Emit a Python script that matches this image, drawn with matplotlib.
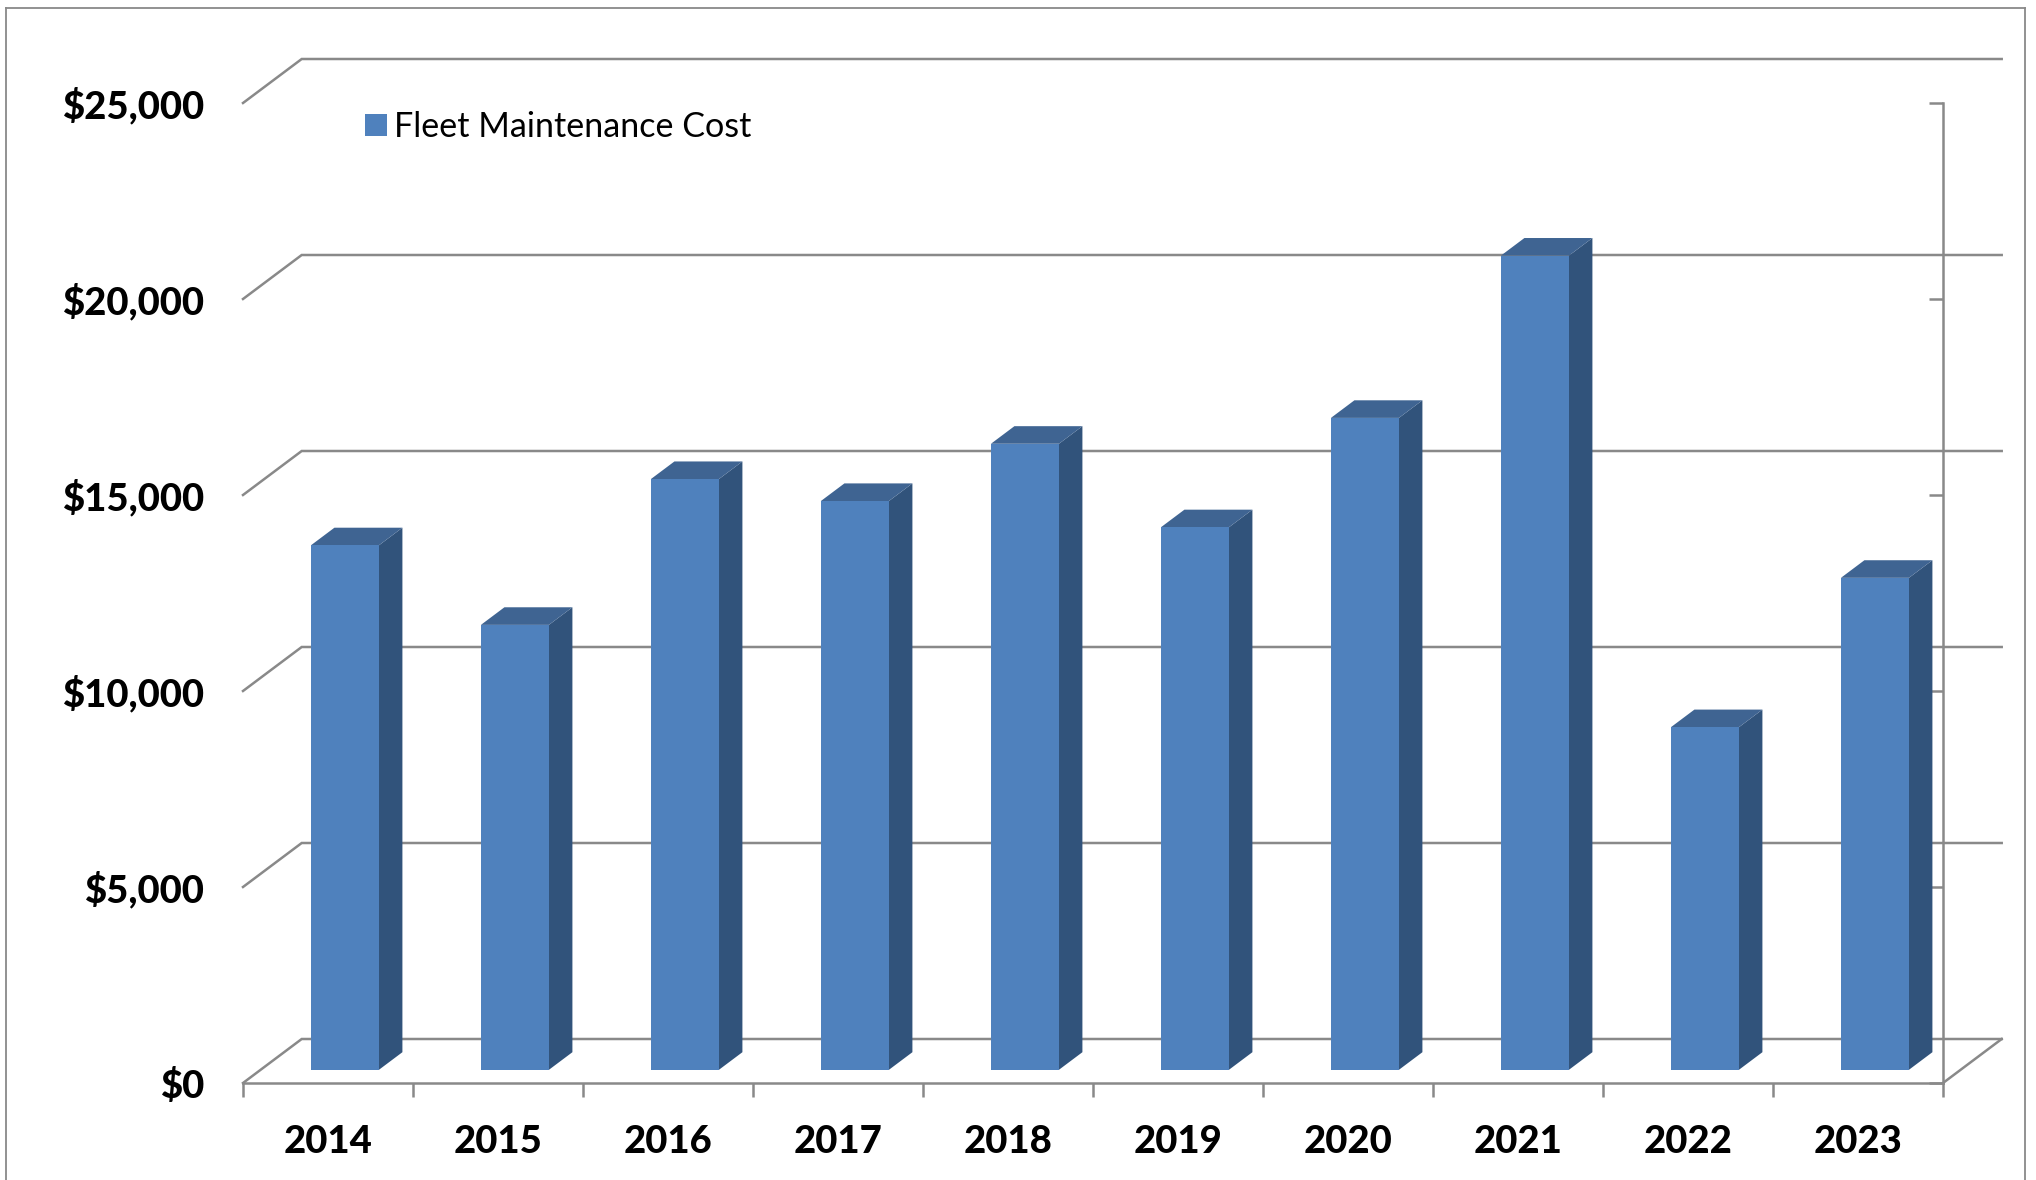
import numpy as np
import matplotlib
matplotlib.use("Agg")
import matplotlib.pyplot as plt
from matplotlib.lines import Line2D
from matplotlib.patches import Patch, Polygon

years = ["2014", "2015", "2016", "2017", "2018", "2019", "2020", "2021", "2022", "2023"]
costs = [13380, 11350, 15070, 14510, 15970, 13840, 16630, 20770, 8740, 12550]
y_ticks = [0, 5000, 10000, 15000, 20000, 25000]
y_labels = ["$0", "$5,000", "$10,000", "$15,000", "$20,000", "$25,000"]

W, H = 2036, 1180
GREY = "#898989"
FRONT = "#4F81BD"
SIDE = "#31537B"
TOP = "#3F6492"
LW = 1.8

# oblique offset of the back wall, in data units
DEPTH_X = 58.7 / 170
DEPTH_Y = 44.0 / 196.0 * 5000
BAR_W = 0.4
BAR_SHIFT = -0.004
Z0, Z1 = 0.3, 0.7


def project(x, y, z):
    return x + z * DEPTH_X, y + z * DEPTH_Y


def box(ax, x, value):
    x0, x1 = x - BAR_W / 2, x + BAR_W / 2
    front = [project(x0, 0, Z0), project(x1, 0, Z0), project(x1, value, Z0), project(x0, value, Z0)]
    side = [project(x1, 0, Z0), project(x1, 0, Z1), project(x1, value, Z1), project(x1, value, Z0)]
    top = [project(x0, value, Z0), project(x1, value, Z0), project(x1, value, Z1), project(x0, value, Z1)]
    for pts, col in ((side, SIDE), (top, TOP), (front, FRONT)):
        ax.add_patch(Polygon(pts, closed=True, facecolor=col, edgecolor="none", zorder=3, clip_on=False))


plt.rcParams["font.family"] = ["Lato", "DejaVu Sans"]
fig = plt.figure(figsize=(W / 100, H / 100), dpi=100)
ax = fig.add_axes([243 / W, 1 - 1083 / H, 1700 / W, 980 / H])
ax.set_xlim(0, 10)
ax.set_ylim(0, 25000)

# walls and floor
for v in y_ticks:
    xs, ys = zip(project(0, v, 0), project(0, v, 1), project(10, v, 1))
    ax.plot(xs, ys, color=GREY, lw=LW, zorder=1, clip_on=False, solid_joinstyle="miter")
xs, ys = zip(project(10, 0, 0), project(10, 0, 1))
ax.plot(xs, ys, color=GREY, lw=LW, zorder=1, clip_on=False)

for i, c in enumerate(costs):
    box(ax, i + 0.5 + BAR_SHIFT, c)

ax.spines["top"].set_visible(False)
ax.spines["left"].set_visible(False)
ax.spines["right"].set_color(GREY)
ax.spines["right"].set_linewidth(LW)
ax.spines["bottom"].set_color(GREY)
ax.spines["bottom"].set_linewidth(LW)

ax.set_yticks(y_ticks, y_labels)
ax.tick_params(axis="y", left=False, right=True, direction="in", length=10, width=LW,
               color=GREY, pad=28, labelsize=27.5)
for t in ax.get_yticklabels():
    t.set_fontweight(900)

ax.set_xticks(np.arange(0, 11), [""] * 11)
ax.set_xticks(np.arange(10) + 0.5, years, minor=True)
ax.tick_params(axis="x", which="major", direction="out", length=10, width=LW, color=GREY)
ax.tick_params(axis="x", which="minor", length=0, pad=30, labelsize=27.5)
for t in ax.get_xticklabels(minor=True):
    t.set_fontweight(900)

ax.legend(handles=[Patch(facecolor=FRONT, label="Fleet Maintenance Cost")],
          loc="center left", bbox_to_anchor=((365 - 243) / 1700, (1083 - 127) / 980), frameon=False,
          fontsize=24.6, handlelength=0.65, handleheight=0.65, handletextpad=0.2,
          borderpad=0, borderaxespad=0)

# chart border, bottom edge is cut off in the source
for xs, ys in (([5.5, 5.5], [H, 7.5]), ([5.5, 2025], [7.5, 7.5]), ([2025, 2025], [7.5, H])):
    fig.add_artist(Line2D([x / W for x in xs], [1 - y / H for y in ys], color=GREY, lw=1.3))

fig.savefig("out.png", dpi=100)
